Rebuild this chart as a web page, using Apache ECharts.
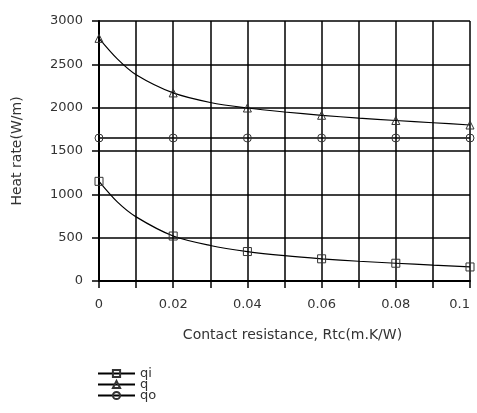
<!DOCTYPE html>
<html>
<head>
<meta charset="utf-8">
<script src="https://cdn.jsdelivr.net/npm/echarts@6/dist/echarts.min.js"></script>
<style>
html, body { margin: 0; padding: 0; background: #fff; }
#chart { width: 477px; height: 413px; }
</style>
</head>
<body>
<div id="chart"></div>
<script>
// contact resistance values (m.K/W)
var rtc = [0, 0.005, 0.01, 0.02, 0.03, 0.04, 0.05, 0.06, 0.07, 0.08, 0.09, 0.1];
var qiVals = [1150, 910, 740, 519, 410, 340, 292, 256, 228, 205, 183, 162];
var qVals = [2800, 2560, 2380, 2170, 2060, 1996, 1950, 1912, 1880, 1852, 1826, 1800];
var qoVals = [1650, 1650, 1650, 1650, 1650, 1650, 1650, 1650, 1650, 1650, 1650, 1650];
// markers only drawn at these x positions
var markerX = [0, 0.02, 0.04, 0.06, 0.08, 0.1];

var seriesNames = ['qi', 'q', 'qo'];
var seriesSymbols = ['rect', 'triangle', 'circle'];

function buildData(vals) {
	var out = [];
	for (var i = 0; i < rtc.length; i++) {
		var hasMark = false;
		for (var j = 0; j < markerX.length; j++) {
			if (Math.abs(markerX[j] - rtc[i]) < 1e-9) hasMark = true;
		}
		var item = { value: [rtc[i], vals[i]] };
		if (!hasMark) item.symbol = 'none';
		out.push(item);
	}
	return out;
}

var allVals = [qiVals, qVals, qoVals];
var series = [];
for (var k = 0; k < seriesNames.length; k++) {
	series.push({
		name: seriesNames[k],
		type: 'line',
		data: buildData(allVals[k]),
		smooth: k == 2 ? false : 0.3,
		symbol: seriesSymbols[k],
		symbolSize: 8,
		showAllSymbol: true,
		lineStyle: { color: '#000', width: k == 2 ? 1.5 : 1.2 },
		itemStyle: { color: 'transparent', borderColor: '#333', borderWidth: 1 },
		emphasis: { disabled: true },
		animation: false
	});
}

var myChart = echarts.init(document.getElementById('chart'));
var option = {
	backgroundColor: '#fff',
	animation: false,
	textStyle: { fontFamily: 'DejaVu Sans, sans-serif' },
	grid: { left: 99, right: 7, top: 21, bottom: 132 },
	legend: {
		orient: 'vertical',
		left: 97,
		top: 367,
		padding: 0,
		itemWidth: 37,
		itemHeight: 9,
		itemGap: -2,
		data: seriesNames,
		textStyle: { fontSize: 13, color: '#333', lineHeight: 9 }
	},
	xAxis: {
		type: 'value',
		min: 0,
		max: 0.1,
		interval: 0.02,
		name: 'Contact resistance, Rtc(m.K/W)',
		nameLocation: 'middle',
		nameGap: 47,
		nameTextStyle: { fontSize: 14, color: '#333', padding: [0, 0, 0, 16] },
		axisLine: { show: true, lineStyle: { color: '#000', width: 2 } },
		axisTick: { show: true, length: 7, lineStyle: { color: '#000', width: 1.5 } },
		minorTick: { show: true, splitNumber: 2, length: 7, lineStyle: { color: '#000', width: 1.5 } },
		splitLine: { show: true, lineStyle: { color: '#000', width: 1.5 } },
		minorSplitLine: { show: true, lineStyle: { color: '#000', width: 1.5 } },
		axisLabel: { fontSize: 13, color: '#333', margin: 17, alignMaxLabel: 'right' }
	},
	yAxis: {
		type: 'value',
		min: 0,
		max: 3000,
		interval: 500,
		name: 'Heat rate(W/m)',
		nameLocation: 'middle',
		nameGap: 75,
		nameTextStyle: { fontSize: 14, color: '#333' },
		axisLine: { show: true, lineStyle: { color: '#000', width: 2 } },
		axisTick: { show: true, length: 7, lineStyle: { color: '#000', width: 1.5 } },
		splitLine: { show: true, lineStyle: { color: '#000', width: 1.5 } },
		axisLabel: {
			fontSize: 13, color: '#333', margin: 16,
			formatter: function(v) { return String(v); }
		}
	},
	series: series
};

myChart.setOption(option);
</script>
</body>
</html>
